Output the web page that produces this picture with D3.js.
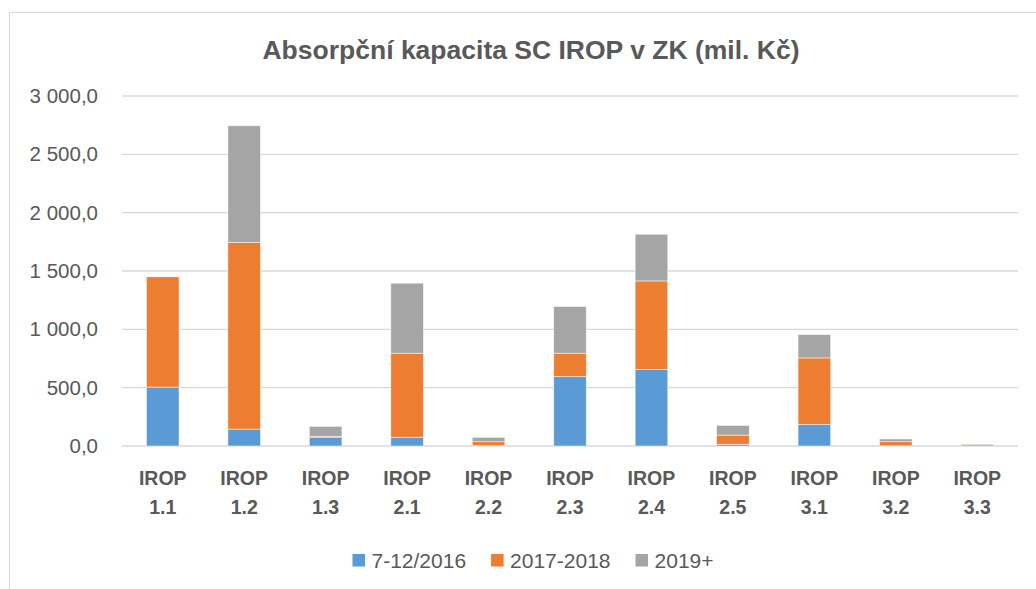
<!DOCTYPE html>
<html>
<head>
<meta charset="utf-8">
<script src="https://cdn.jsdelivr.net/npm/d3@7"></script>
<style>
  body { margin: 0; background: #fff; }
  svg { display: block; }
</style>
</head>
<body>
<svg id="chart" width="1036" height="589"></svg>
<script>
// data
const categories = ["IROP 1.1", "IROP 1.2", "IROP 1.3", "IROP 2.1", "IROP 2.2", "IROP 2.3",
                    "IROP 2.4", "IROP 2.5", "IROP 3.1", "IROP 3.2", "IROP 3.3"];
const seriesNames = ["7-12/2016", "2017-2018", "2019+"];
const s2016 = [505, 145, 75, 75, 3, 595, 655, 15, 185, 2, 1];
const s2017 = [945, 1600, 8, 720, 34, 200, 760, 78, 570, 35, 12];
const s2019 = [0, 1000, 85, 600, 37, 400, 400, 83, 200, 23, 4];
const yTicks = [0, 500, 1000, 1500, 2000, 2500, 3000];
const colors = ["#5b9bd5", "#ed7d31", "#a5a5a5"];

const title = "Absorpční kapacita SC IROP v ZK (mil. Kč)";
const textColor = "#595959";
const gridColor = "#d9d9d9";

const plot = { left: 122, right: 1018, top: 96, bottom: 446 };

const svg = d3.select("#chart");

// outer chart frame (cut off at right / bottom like the screenshot)
svg.append("rect")
    .attr("x", 9.5)
    .attr("y", 12.5)
    .attr("width", 1040)
    .attr("height", 600)
    .attr("fill", "none")
    .attr("stroke", gridColor)
    .attr("stroke-width", 1);

const rows = categories.map((c, i) => ({ cat: c, a: s2016[i], b: s2017[i], c: s2019[i] }));
const stack = d3.stack().keys(["a", "b", "c"])(rows);

const x = d3.scaleBand()
    .domain(categories)
    .range([plot.left, plot.right])
    .paddingInner(0.6)
    .paddingOuter(0.3);

const y = d3.scaleLinear()
    .domain([0, 3000])
    .range([plot.bottom, plot.top]);

const cz = d3.formatLocale({ decimal: ",", thousands: "\u00a0", grouping: [3], currency: ["", ""] });
const fmt = cz.format(",.1f");

// gridlines
svg.append("g")
    .selectAll("line")
    .data(yTicks)
    .join("line")
    .attr("x1", plot.left)
    .attr("x2", plot.right)
    .attr("y1", d => y(d))
    .attr("y2", d => y(d))
    .attr("stroke", gridColor)
    .attr("stroke-width", 1.3);

// y axis labels
const yAxis = d3.axisLeft(y).tickValues(yTicks).tickFormat(fmt).tickSize(0).tickPadding(24);
const yg = svg.append("g").attr("transform", `translate(${plot.left},0)`).call(yAxis);
yg.select(".domain").remove();
yg.selectAll("text")
    .attr("fill", textColor)
    .style("font-family", "'Liberation Sans', Arial, sans-serif")
    .style("font-size", "20.5px");

// stacked bars
svg.append("g")
    .selectAll("g")
    .data(stack)
    .join("g")
    .attr("fill", (d, i) => colors[i])
    .selectAll("rect")
    .data(d => d)
    .join("rect")
    .attr("x", d => x(d.data.cat))
    .attr("width", x.bandwidth())
    .attr("y", d => y(d[1]))
    .attr("height", d => Math.max(0, y(d[0]) - y(d[1])))
    .attr("stroke", "#ffffff")
    .attr("stroke-opacity", 0.6)
    .attr("stroke-width", 0.8);

// x labels (two lines, bold)
const xl = svg.append("g")
    .selectAll("text")
    .data(categories)
    .join("text")
    .attr("x", d => x(d) + x.bandwidth() / 2)
    .attr("text-anchor", "middle")
    .attr("fill", textColor)
    .style("font-family", "'Liberation Sans', Arial, sans-serif")
    .style("font-weight", "bold")
    .style("font-size", "19.5px");
xl.append("tspan")
    .attr("x", d => x(d) + x.bandwidth() / 2)
    .attr("y", 485)
    .text(d => d.split(" ")[0]);
xl.append("tspan")
    .attr("x", d => x(d) + x.bandwidth() / 2)
    .attr("y", 514)
    .text(d => d.split(" ")[1]);

// title
svg.append("text")
    .attr("x", 531)
    .attr("y", 59)
    .attr("text-anchor", "middle")
    .attr("fill", textColor)
    .style("font-family", "'Liberation Sans', Arial, sans-serif")
    .style("font-weight", "bold")
    .style("font-size", "26.5px")
    .text(title);

// legend, centred
const legend = svg.append("g");
let lx = 0;
seriesNames.forEach((name, i) => {
    const item = legend.append("g").attr("transform", `translate(${lx},0)`);
    item.append("rect")
        .attr("x", 0)
        .attr("y", -6)
        .attr("width", 12.5)
        .attr("height", 12.5)
        .attr("fill", colors[i]);
    const t = item.append("text")
        .attr("x", 19)
        .attr("y", 7.5)
        .attr("fill", textColor)
        .style("font-family", "'Liberation Sans', Arial, sans-serif")
        .style("font-size", "21px")
        .text(name);
    lx += 19 + t.node().getComputedTextLength() + 25;
});
const legendWidth = lx - 25;
legend.attr("transform", `translate(${533 - legendWidth / 2},560)`);
</script>
</body>
</html>
